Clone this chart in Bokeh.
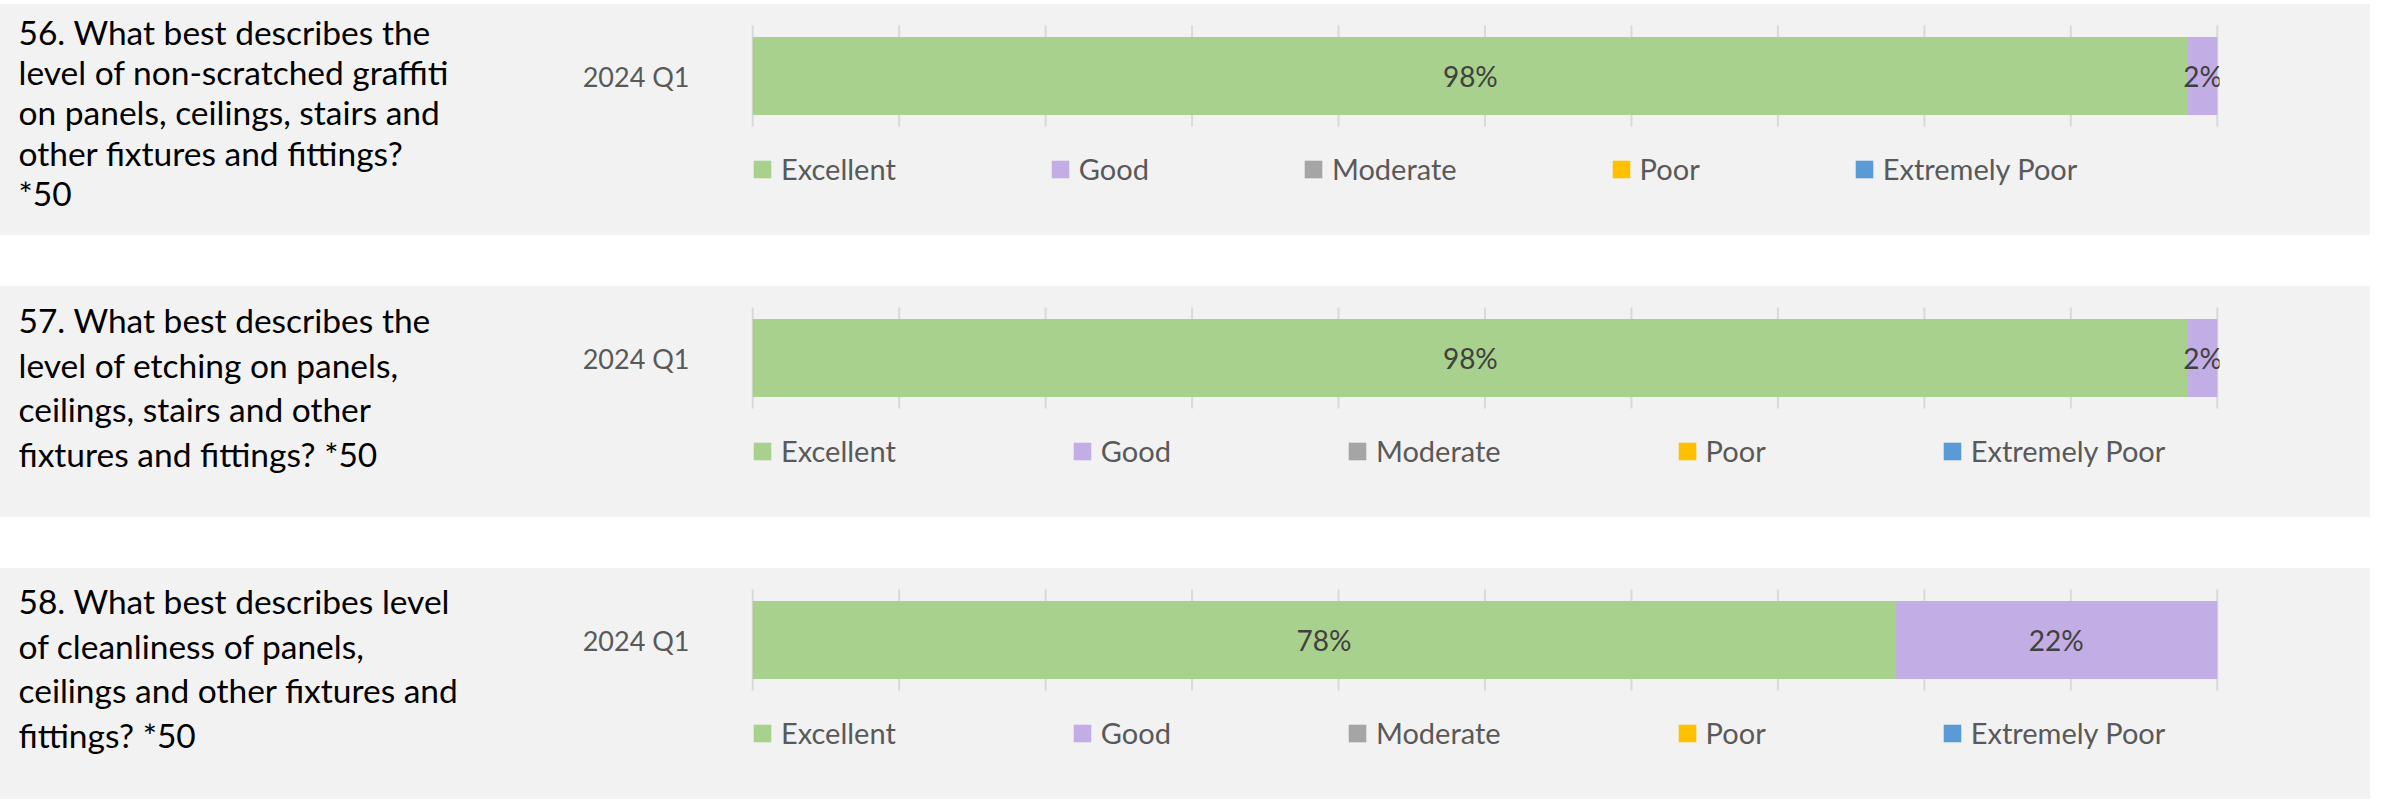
from bokeh.plotting import figure
from bokeh.models import ColumnDataSource, Range1d, Spacer, Legend, LegendItem
from bokeh.layouts import column, row
from bokeh.core.properties import value
from bokeh.embed import file_html
from bokeh.resources import INLINE

# ---------------- data ----------------
questions = [
    "56. What best describes the\nlevel of non-scratched graffiti\non panels, ceilings, stairs and\nother fixtures and fittings?\n*50",
    "57. What best describes the\nlevel of etching on panels,\nceilings, stairs and other\nfixtures and fittings? *50",
    "58. What best describes level\nof cleanliness of panels,\nceilings and other fixtures and\nfittings? *50",
]
period = ["2024 Q1"]
ratings = ["Excellent", "Good", "Moderate", "Poor", "Extremely Poor"]
excellent = [98, 98, 78]
good = [2, 2, 22]
moderate = [0, 0, 0]
poor = [0, 0, 0]
extremely_poor = [0, 0, 0]
x_ticks = [0, 10, 20, 30, 40, 50, 60, 70, 80, 90, 100]

colors = ["#A9D18E", "#C2ADE4", "#A5A5A5", "#FFC000", "#5B9BD5"]
keys = ["excellent", "good", "moderate", "poor", "extremely_poor"]
series = [excellent, good, moderate, poor, extremely_poor]

BG = "#F2F2F2"
FONT = "Lato"
PANEL_H = 231
TEXT_W = 570
FRAME_L = 180           # left border of chart figure (holds the y axis)
BAND_PX = 101           # pixels per category band
BAND_TOP = 21           # top of category band, px from panel top
legend_spacing = [153, 175, 175]
first_baseline = [27.5, 33.5, 32.5]
line_step = [40.2, 44.6, 44.5]


def make_text(i):
    t = figure(width=TEXT_W, height=PANEL_H, x_range=Range1d(0, TEXT_W),
               y_range=Range1d(PANEL_H, 0), output_backend="svg", toolbar_location=None,
               min_border=0, background_fill_color=BG, border_fill_color=BG,
               outline_line_color=None, x_axis_location=None, y_axis_location=None)
    t.xgrid.visible = False
    t.ygrid.visible = False
    lines = questions[i].split("\n")
    ys = [first_baseline[i] + k * line_step[i] for k in range(len(lines))]
    t.text(x=[18] * len(lines), y=ys, text=lines, text_font=value(FONT),
           text_font_size="33.5px", text_color="#000000", text_baseline="alphabetic",
           text_align="left")
    return t


def make_chart(i):
    idx = list(range(len(period)))
    data = {"y": idx}
    for k, s in zip(keys, series):
        data[k] = [s[i]]
    src = ColumnDataSource(data)

    # numeric category axis: index 0 is the band centre; band spans +-0.5
    y_top = (BAND_TOP + BAND_PX / 2) / BAND_PX
    y_bot = -(PANEL_H - BAND_TOP - BAND_PX / 2) / BAND_PX
    p = figure(width=2370 - TEXT_W, height=PANEL_H, y_range=Range1d(y_bot, y_top),
               x_range=Range1d(-0.15, 100.15), output_backend="svg", toolbar_location=None,
               min_border_left=FRAME_L, min_border_right=151, min_border_top=0,
               min_border_bottom=0, background_fill_color=BG, border_fill_color=BG,
               outline_line_color=None, x_axis_location=None)
    p.xgrid.visible = False
    p.ygrid.visible = False

    # vertical grid lines spanning the category band
    p.segment(x0=x_ticks, x1=x_ticks, y0=[idx[0] - 0.5] * len(x_ticks),
              y1=[idx[0] + 0.5] * len(x_ticks), line_color="#D9D9D9", line_width=2)

    renderers = p.hbar_stack(keys, y="y", height=0.77, color=colors, source=src,
                             line_color=None)

    # percent labels
    xs, ys, txt = [], [], []
    start = 0
    for s in series:
        v = s[i]
        if v > 0:
            xs.append(start + v / 2)
            ys.append(idx[0])
            txt.append(f"{v}%")
        start += v
    p.text(x=xs, y=ys, text=txt, text_align="center", text_baseline="middle",
           text_font=value(FONT), text_font_size="28px", text_color="#404040")

    # y axis with the period label
    p.yaxis.ticker = idx
    p.yaxis.major_label_overrides = {j: lab for j, lab in zip(idx, period)}
    p.yaxis.axis_line_color = None
    p.yaxis.major_tick_line_color = None
    p.yaxis.minor_tick_line_color = None
    p.yaxis.major_label_text_font = FONT
    p.yaxis.major_label_text_font_size = "27px"
    p.yaxis.major_label_text_color = "#595959"
    p.yaxis.major_label_standoff = 55

    # legend
    items = [LegendItem(label=r, renderers=[rr]) for r, rr in zip(ratings, renderers)]
    leg = Legend(items=items, orientation="horizontal", location=(1, 49),
                 spacing=legend_spacing[i], padding=0, margin=0,
                 glyph_width=22, glyph_height=22, label_standoff=8,
                 label_text_font=FONT, label_text_font_size="29px",
                 label_text_color="#595959", label_height=22,
                 background_fill_alpha=0, border_line_color=None)
    p.add_layout(leg, "center")
    return p


panels = [row(make_text(i), make_chart(i), spacing=0, styles={"background-color": BG})
          for i in range(3)]
layout = column(Spacer(height=4), panels[0], Spacer(height=51), panels[1],
                Spacer(height=51), panels[2])

open("out.html", "w").write(file_html(layout, INLINE))
